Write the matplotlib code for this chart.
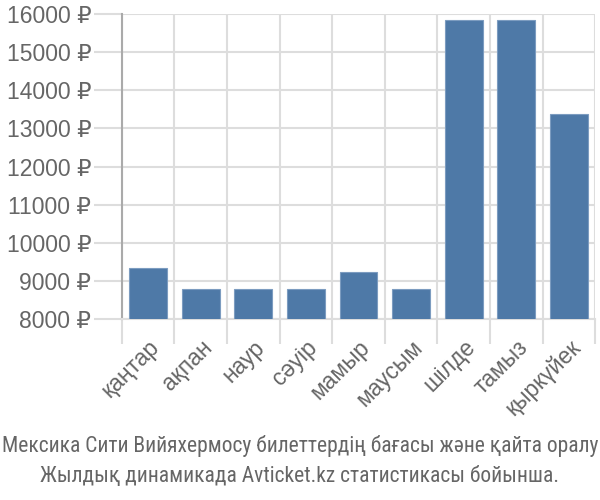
import numpy as np
import matplotlib.pyplot as plt
from matplotlib.ticker import FixedLocator, FuncFormatter

months = ["қаңтар", "ақпан", "наур", "сәуір", "мамыр", "маусым", "шілде", "тамыз", "қыркүйек"]
prices = [9330, 8790, 8790, 8790, 9240, 8790, 15840, 15840, 13380]
y_ticks = [8000, 9000, 10000, 11000, 12000, 13000, 14000, 15000, 16000]
caption = ["Мексика Сити Вийяхермосу билеттердің бағасы және қайта оралу",
           "Жылдық динамикада Avticket.kz статистикасы бойынша."]

plt.rcParams['font.family'] = ['Liberation Sans', 'DejaVu Sans']
text_col = "#666666"
grid_col = "#dddddd"

fig = plt.figure(figsize=(6, 5), dpi=100)
ax = fig.add_axes([0.203, 0.362, 0.789, 0.61])

x = np.arange(len(months))
ax.bar(x, prices, width=0.72, color="#4e79a7", edgecolor="#7c9cc0", linewidth=0.8, zorder=3)

ax.set_ylim(8000, 16000)
ax.set_xlim(-0.5, len(months) - 0.5)

ax.set_yticks(y_ticks)
ax.yaxis.set_major_formatter(FuncFormatter(lambda v, p: f"{int(v)} ₽"))
ax.tick_params(axis='y', length=20, color=grid_col, width=1.5, labelsize=16.5, labelcolor=text_col, pad=2)
ax.grid(axis='y', color=grid_col, linewidth=1.5, zorder=0)

ax.set_xticks(x)
ax.set_xticklabels(months, rotation=45, ha='right', rotation_mode='anchor')
ax.tick_params(axis='x', which='major', length=0, labelsize=16.5, labelcolor=text_col, pad=12)
ax.xaxis.set_minor_locator(FixedLocator(np.arange(-0.5, len(months), 1)))
ax.tick_params(axis='x', which='minor', length=18, color=grid_col, width=1.5)
ax.grid(axis='x', which='minor', color=grid_col, linewidth=1.5, zorder=0)

for s in ["top", "right"]:
    ax.spines[s].set_visible(False)
ax.spines["left"].set_color("#aaaaaa")
ax.spines["left"].set_linewidth(1.5)
ax.spines["bottom"].set_color(grid_col)
ax.spines["bottom"].set_linewidth(1.5)

cap_font = ['Roboto Condensed', 'Liberation Sans', 'DejaVu Sans']
fig.text(0.5, 0.108, caption[0], ha='center', va='center', fontsize=15.5, color=text_col, family=cap_font)
fig.text(0.5, 0.046, caption[1], ha='center', va='center', fontsize=15.5, color=text_col, family=cap_font)

fig.savefig("out.png", dpi=100)
